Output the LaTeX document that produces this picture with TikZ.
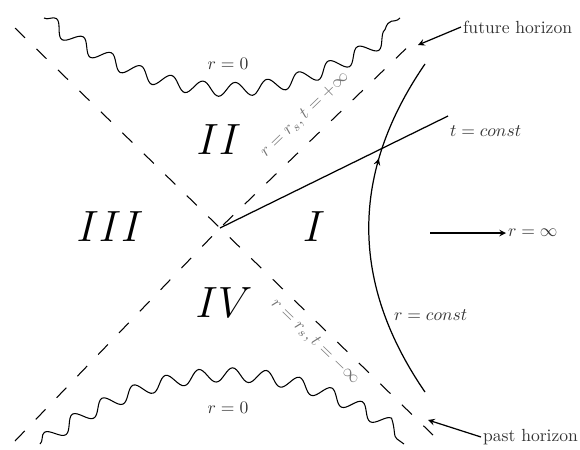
\documentclass[tikz,border=0pt]{standalone}
\usepackage{amsmath}
\usepackage{tikz}
\usetikzlibrary{arrows.meta, decorations.pathmorphing, decorations.markings}

\begin{document}
\begin{tikzpicture}[x=0.2mm, y=-0.2mm, >=stealth]
    \useasboundingbox (0,0) rectangle (580,449);
    \tikzset{
      horizon/.style={dash pattern=on 2.8mm off 3.2mm, line width=0.6pt},
      singular/.style={decorate, decoration={snake, amplitude=1.4mm, segment length=6.6mm}, line width=0.6pt},
      region/.style={font=\Huge},
      lbl/.style={text=black!80, inner sep=1pt},
      hlbl/.style={text=black!55, inner sep=1pt}
    }

    % Bifurcation point and horizon ends
    \coordinate (ctr) at (220,228);
    \coordinate (futA) at (15,28);
    \coordinate (pastA) at (433,435);
    \coordinate (pastB) at (15,441);
    \coordinate (futB) at (417,38);

    % Horizons (dashed)
    \draw[horizon] (futA) -- (ctr) -- (pastA);
    \draw[horizon] (pastB) -- (ctr) -- (futB);

    % Singularities r = 0 (wavy)
    \draw[singular] (44,18) .. controls (162.7,106.7) and (281.3,106.7) .. (400,18);
    \draw[singular] (40,444) .. controls (161.3,358) and (282.7,358) .. (404,444);
    \node[lbl] (rzeroT) at (228,64) {$r=0$};
    \node[lbl] (rzeroB) at (228,408) {$r=0$};

    % Regions
    \node[region] (regI) at (314,227) {$I$};
    \node[region] (regII) at (219,140) {$II$};
    \node[region] (regIII) at (110,227) {$III$};
    \node[region] (regIV) at (224,303) {$IV$};

    % Horizon labels along the dashed lines
    \node[hlbl, rotate=44] (hplus) at (305,115) {$r=r_s,t=+\infty$};
    \node[hlbl, rotate=-44] (hminus) at (315,342) {$r=r_s,t=-\infty$};

    % t = const slice
    \coordinate (tend) at (448,116);
    \draw[line width=0.7pt] (ctr) -- (tend);
    \node[lbl, anchor=west] (tconst) at (448,131) {$t=const$};

    % r = const worldline
    \draw[line width=0.7pt, decoration={markings, mark=at position 0.70 with {\arrow{stealth}}}, postaction={decorate}]
      (425,392) .. controls (350,283) and (350,173) .. (425,64);
    \node[lbl, anchor=west] (rconst) at (392,315) {$r=const$};

    % Spatial infinity
    \coordinate (rinftail) at (430,233);
    \node[lbl, anchor=west] (rinf) at (506,233) {$r=\infty$};
    \draw[->, line width=0.7pt] (rinftail) -- (rinf.west);

    % Horizon names
    \node[lbl, anchor=west] (futname) at (461,27) {future horizon};
    \coordinate (futtip) at (418,45);
    \draw[->, line width=0.7pt] (futname.west) -- (futtip);
    \node[lbl, anchor=west] (pastname) at (481,437) {past horizon};
    \coordinate (pasttip) at (428,420);
    \draw[->, line width=0.7pt] (pastname.west) -- (pasttip);
\end{tikzpicture}
\end{document}
